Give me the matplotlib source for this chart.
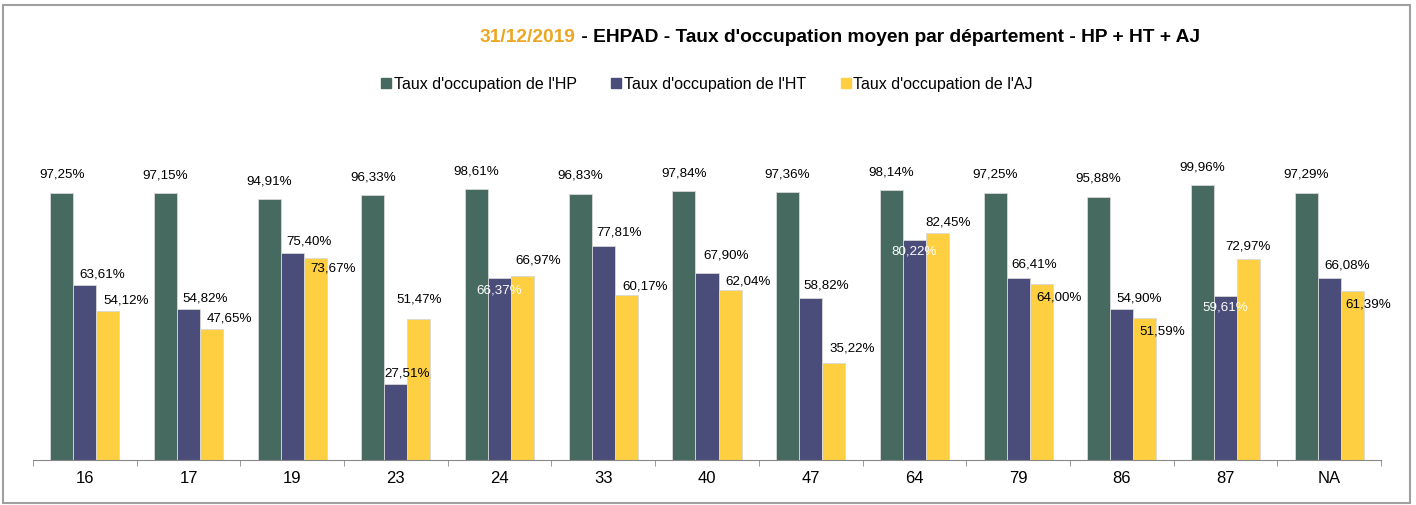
import matplotlib.pyplot as plt
from matplotlib.lines import Line2D
from matplotlib.patches import Rectangle
import numpy as np

plt.rcParams["font.family"] = ["Liberation Sans", "DejaVu Sans"]

departements = ["16", "17", "19", "23", "24", "33", "40", "47", "64", "79", "86", "87", "NA"]
taux_hp = [97.25, 97.15, 94.91, 96.33, 98.61, 96.83, 97.84, 97.36, 98.14, 97.25, 95.88, 99.96, 97.29]
taux_ht = [63.61, 54.82, 75.40, 27.51, 66.37, 77.81, 67.90, 58.82, 80.22, 66.41, 54.90, 59.61, 66.08]
taux_aj = [54.12, 47.65, 73.67, 51.47, 66.97, 60.17, 62.04, 35.22, 82.45, 64.00, 51.59, 72.97, 61.39]
series_names = ["Taux d'occupation de l'HP", "Taux d'occupation de l'HT", "Taux d'occupation de l'AJ"]
colors = ["#476a60", "#4a4c7a", "#fecf40"]

# label placement (pixels, x right / y up) - Excel's auto placement
default_off = [(0, 18), (17, 11), (18, 11)]
special_off = {
    (1, 3): (11, 11, "black"), (1, 4): (0, -13, "white"), (1, 5): (16, 14, "black"),
    (1, 6): (19, 18, "black"), (1, 7): (16, 13, "black"), (1, 8): (0, -12, "white"),
    (1, 9): (16, 13, "black"), (1, 11): (0, -11, "white"), (1, 12): (18, 13, "black"),
    (2, 2): (18, -11, "black"), (2, 3): (0, 19, "black"), (2, 4): (16, 15, "black"),
    (2, 5): (19, 8, "black"), (2, 6): (18, 8, "black"), (2, 7): (19, 15, "black"),
    (2, 8): (11, 11, "black"), (2, 9): (18, -13, "black"), (2, 10): (18, -13, "black"),
    (2, 11): (0, 13, "black"), (2, 12): (16, -13, "black"),
}

W, H, DPI = 1416, 505, 100
fig = plt.figure(figsize=(W / DPI, H / DPI), dpi=DPI)
fig.patches.append(Rectangle((3 / W, 1 - 503 / H), 1407 / W, 498 / H, transform=fig.transFigure,
                             fill=False, edgecolor="#a0a0a0", linewidth=1.5))

ax = fig.add_axes([33 / W, 1 - 460 / H, 1348 / W, 0.653])
x = np.arange(len(departements))
bw = 0.222
px2pt = 72 / DPI
for k, vals in enumerate([taux_hp, taux_ht, taux_aj]):
    bars = ax.bar(x + (k - 1) * bw, vals, bw, color=colors[k], edgecolor="#d8d8d8", linewidth=0.6)
    for i, (b, v) in enumerate(zip(bars, vals)):
        dx, dy, col = special_off.get((k, i), default_off[k] + ("black",))
        ax.annotate(f"{v:.2f}%".replace(".", ","), (b.get_x() + b.get_width() / 2, v),
                    xytext=(dx * px2pt, dy * px2pt), textcoords="offset points",
                    ha="center", va="center", fontsize=9.6, color=col)

ax.set_xlim(-0.5, len(departements) - 0.5)
ax.set_ylim(0, 120)
ax.set_xticks(x)
ax.set_xticklabels(departements, fontsize=12)
ax.set_xticks(np.arange(len(departements) + 1) - 0.5, minor=True)
ax.tick_params(axis="x", which="major", length=0, pad=8)
ax.tick_params(axis="x", which="minor", length=4, color="#888888")
ax.set_yticks([])
for s in ["top", "right", "left"]:
    ax.spines[s].set_visible(False)
ax.spines["bottom"].set_color("#888888")

t1 = fig.text(480 / W, 1 - 37 / H, "31/12/2019", color="#eba721", fontsize=13.8,
              fontweight="bold", ha="left", va="center")
ax.annotate(" - EHPAD - Taux d'occupation moyen par département - HP + HT + AJ",
            xy=(1, 0.5), xycoords=t1, ha="left", va="center", fontsize=13.8,
            fontweight="bold", color="black", annotation_clip=False)

handles = [Line2D([], [], marker="s", linestyle="none", markersize=7, color=c) for c in colors]
fig.legend(handles, series_names, loc="center", bbox_to_anchor=(707 / W, 1 - 84 / H), ncol=3,
           frameon=False, fontsize=11.5, handlelength=0.6, handletextpad=0.15,
           columnspacing=2.2)

fig.savefig("out.png", dpi=DPI)
